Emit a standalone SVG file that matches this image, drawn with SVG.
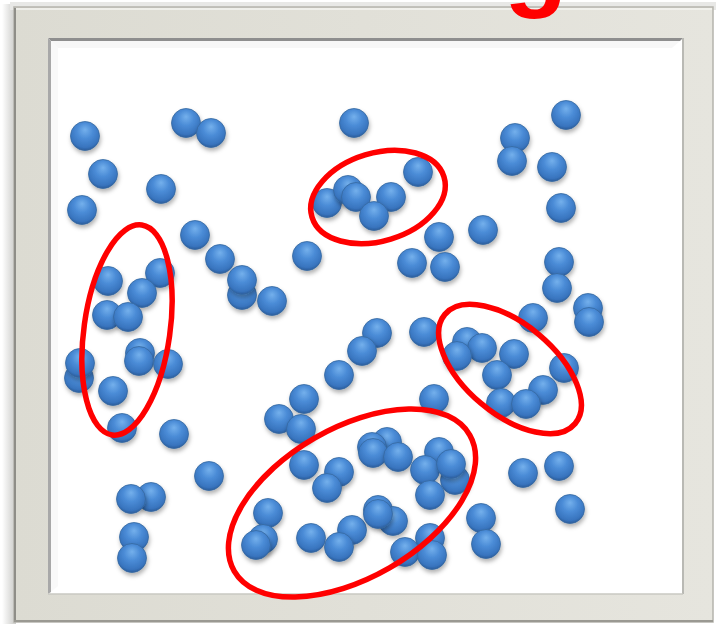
<svg xmlns="http://www.w3.org/2000/svg" xmlns:xlink="http://www.w3.org/1999/xlink" width="716" height="624" viewBox="0 0 716 624">
  <defs>
    <radialGradient id="ballGrad" cx="50%" cy="38%" r="62%" fx="50%" fy="28%">
      <stop offset="0" stop-color="#74b0ec"/>
      <stop offset="0.45" stop-color="#4a8bd6"/>
      <stop offset="0.85" stop-color="#3874be"/>
      <stop offset="1" stop-color="#2a5c9a"/>
    </radialGradient>
    <filter id="shadow" x="-50%" y="-50%" width="200%" height="200%">
      <feDropShadow dx="1" dy="3" stdDeviation="2" flood-color="#000" flood-opacity="0.3"/>
    </filter>
    <linearGradient id="frameGrad" x1="0" y1="0" x2="1" y2="0">
      <stop offset="0" stop-color="#dcdbd2"/>
      <stop offset="1" stop-color="#e6e5de"/>
    </linearGradient>
    <linearGradient id="leftShade" x1="0" y1="0" x2="1" y2="0">
      <stop offset="0" stop-color="#ffffff"/>
      <stop offset="1" stop-color="#c9c9c6"/>
    </linearGradient>
    <circle id="b" cx="0" cy="0" r="14.5" fill="url(#ballGrad)" stroke="#36689f" stroke-width="0.8" filter="url(#shadow)"/>
    <style>
      .ring { fill: none; stroke: #ff0000; stroke-width: 5.5; }
    </style>
  </defs>

  <rect x="0" y="0" width="716" height="624" fill="#ffffff"/>
  <!-- outer shadow -->
  <rect x="2" y="4" width="14" height="620" fill="url(#leftShade)"/>
  <rect x="10" y="2" width="706" height="8" fill="#e8e8e6"/>
  <!-- frame -->
  <rect x="14" y="7" width="699" height="615" fill="url(#frameGrad)"/>
  <path d="M14,7 L713,7 L713,622 L14,622 Z" fill="none" stroke="#b5b4ad" stroke-width="1.5"/>
  <line x1="15" y1="8" x2="15" y2="622" stroke="#8f8e88" stroke-width="2"/>
  <line x1="14" y1="621" x2="713" y2="621" stroke="#9a9992" stroke-width="2"/>
  <line x1="16" y1="9" x2="712" y2="9" stroke="#f4f4f0" stroke-width="1.5"/>
  <!-- inner white area -->
  <rect x="48" y="38" width="635" height="556" fill="#ffffff"/>
  <polygon points="48,38 683,38 680,41 51,41" fill="#8e8e8e"/>
  <polygon points="48,38 51,41 51,592 48,594" fill="#a8a8a8"/>
  <polygon points="51,41 680,41 672,48 58,48" fill="#f4f4f4" opacity="0.7"/>
  <polygon points="51,41 58,48 58,586 51,592" fill="#f6f6f6" opacity="0.7"/>
  <line x1="683" y1="38" x2="683" y2="594" stroke="#b9b9b4" stroke-width="2"/>
  <line x1="48" y1="594" x2="683" y2="594" stroke="#c8c8c2" stroke-width="1.5"/>

  <!-- clipped red letter at top -->
  <text x="504" y="-3" font-family="'Liberation Sans', Arial, sans-serif" font-weight="bold" font-size="104" fill="#ff0000">g</text>

  <g id="balls">
    <use href="#b" x="85" y="136"/>
    <use href="#b" x="186" y="123"/>
    <use href="#b" x="211" y="133"/>
    <use href="#b" x="103" y="174"/>
    <use href="#b" x="161" y="189"/>
    <use href="#b" x="82" y="210"/>
    <use href="#b" x="195" y="235"/>
    <use href="#b" x="220" y="259"/>
    <use href="#b" x="242" y="295"/>
    <use href="#b" x="242" y="280"/>
    <use href="#b" x="272" y="301"/>
    <use href="#b" x="307" y="256"/>
    <use href="#b" x="108" y="281"/>
    <use href="#b" x="160" y="273"/>
    <use href="#b" x="142" y="293"/>
    <use href="#b" x="107" y="315"/>
    <use href="#b" x="128" y="317"/>
    <use href="#b" x="140" y="353"/>
    <use href="#b" x="139" y="361"/>
    <use href="#b" x="168" y="364"/>
    <use href="#b" x="79" y="378"/>
    <use href="#b" x="80" y="363"/>
    <use href="#b" x="113" y="391"/>
    <use href="#b" x="122" y="428"/>
    <use href="#b" x="174" y="434"/>
    <use href="#b" x="209" y="476"/>
    <use href="#b" x="151" y="497"/>
    <use href="#b" x="131" y="499"/>
    <use href="#b" x="134" y="537"/>
    <use href="#b" x="132" y="558"/>

    <use href="#b" x="354" y="123"/>
    <use href="#b" x="327" y="203"/>
    <use href="#b" x="348" y="190"/>
    <use href="#b" x="356" y="197"/>
    <use href="#b" x="391" y="197"/>
    <use href="#b" x="374" y="216"/>
    <use href="#b" x="418" y="172"/>
    <use href="#b" x="439" y="237"/>
    <use href="#b" x="483" y="230"/>
    <use href="#b" x="412" y="263"/>
    <use href="#b" x="445" y="267"/>
    <use href="#b" x="515" y="138"/>
    <use href="#b" x="512" y="161"/>
    <use href="#b" x="566" y="115"/>
    <use href="#b" x="552" y="167"/>
    <use href="#b" x="561" y="208"/>
    <use href="#b" x="559" y="262"/>
    <use href="#b" x="557" y="288"/>
    <use href="#b" x="588" y="308"/>
    <use href="#b" x="589" y="322"/>
    <use href="#b" x="533" y="318"/>

    <use href="#b" x="377" y="333"/>
    <use href="#b" x="362" y="351"/>
    <use href="#b" x="339" y="375"/>
    <use href="#b" x="304" y="399"/>
    <use href="#b" x="279" y="419"/>
    <use href="#b" x="301" y="429"/>
    <use href="#b" x="424" y="332"/>
    <use href="#b" x="434" y="399"/>

    <use href="#b" x="467" y="342"/>
    <use href="#b" x="482" y="348"/>
    <use href="#b" x="457" y="356"/>
    <use href="#b" x="514" y="354"/>
    <use href="#b" x="497" y="375"/>
    <use href="#b" x="564" y="368"/>
    <use href="#b" x="543" y="390"/>
    <use href="#b" x="501" y="403"/>
    <use href="#b" x="526" y="404"/>

    <use href="#b" x="387" y="442"/>
    <use href="#b" x="372" y="447"/>
    <use href="#b" x="373" y="453"/>
    <use href="#b" x="398" y="457"/>
    <use href="#b" x="304" y="465"/>
    <use href="#b" x="339" y="472"/>
    <use href="#b" x="327" y="488"/>
    <use href="#b" x="439" y="452"/>
    <use href="#b" x="455" y="480"/>
    <use href="#b" x="425" y="470"/>
    <use href="#b" x="451" y="464"/>
    <use href="#b" x="430" y="495"/>
    <use href="#b" x="268" y="513"/>
    <use href="#b" x="263" y="539"/>
    <use href="#b" x="256" y="545"/>
    <use href="#b" x="311" y="538"/>
    <use href="#b" x="352" y="530"/>
    <use href="#b" x="339" y="547"/>
    <use href="#b" x="378" y="510"/>
    <use href="#b" x="393" y="521"/>
    <use href="#b" x="378" y="514"/>
    <use href="#b" x="430" y="538"/>
    <use href="#b" x="405" y="552"/>
    <use href="#b" x="432" y="555"/>
    <use href="#b" x="481" y="518"/>
    <use href="#b" x="486" y="544"/>
    <use href="#b" x="523" y="473"/>
    <use href="#b" x="559" y="466"/>
    <use href="#b" x="570" y="509"/>
  </g>

  <g id="rings">
    <ellipse class="ring" cx="127" cy="330" rx="43" ry="106" transform="rotate(8 127 330)"/>
    <ellipse class="ring" cx="378" cy="197" rx="69" ry="44" transform="rotate(-17 378 197)"/>
    <ellipse class="ring" cx="510" cy="369" rx="85" ry="45" transform="rotate(40 510 369)"/>
    <ellipse class="ring" cx="352" cy="503" rx="136" ry="75" transform="rotate(-30 352 503)"/>
  </g>
</svg>
